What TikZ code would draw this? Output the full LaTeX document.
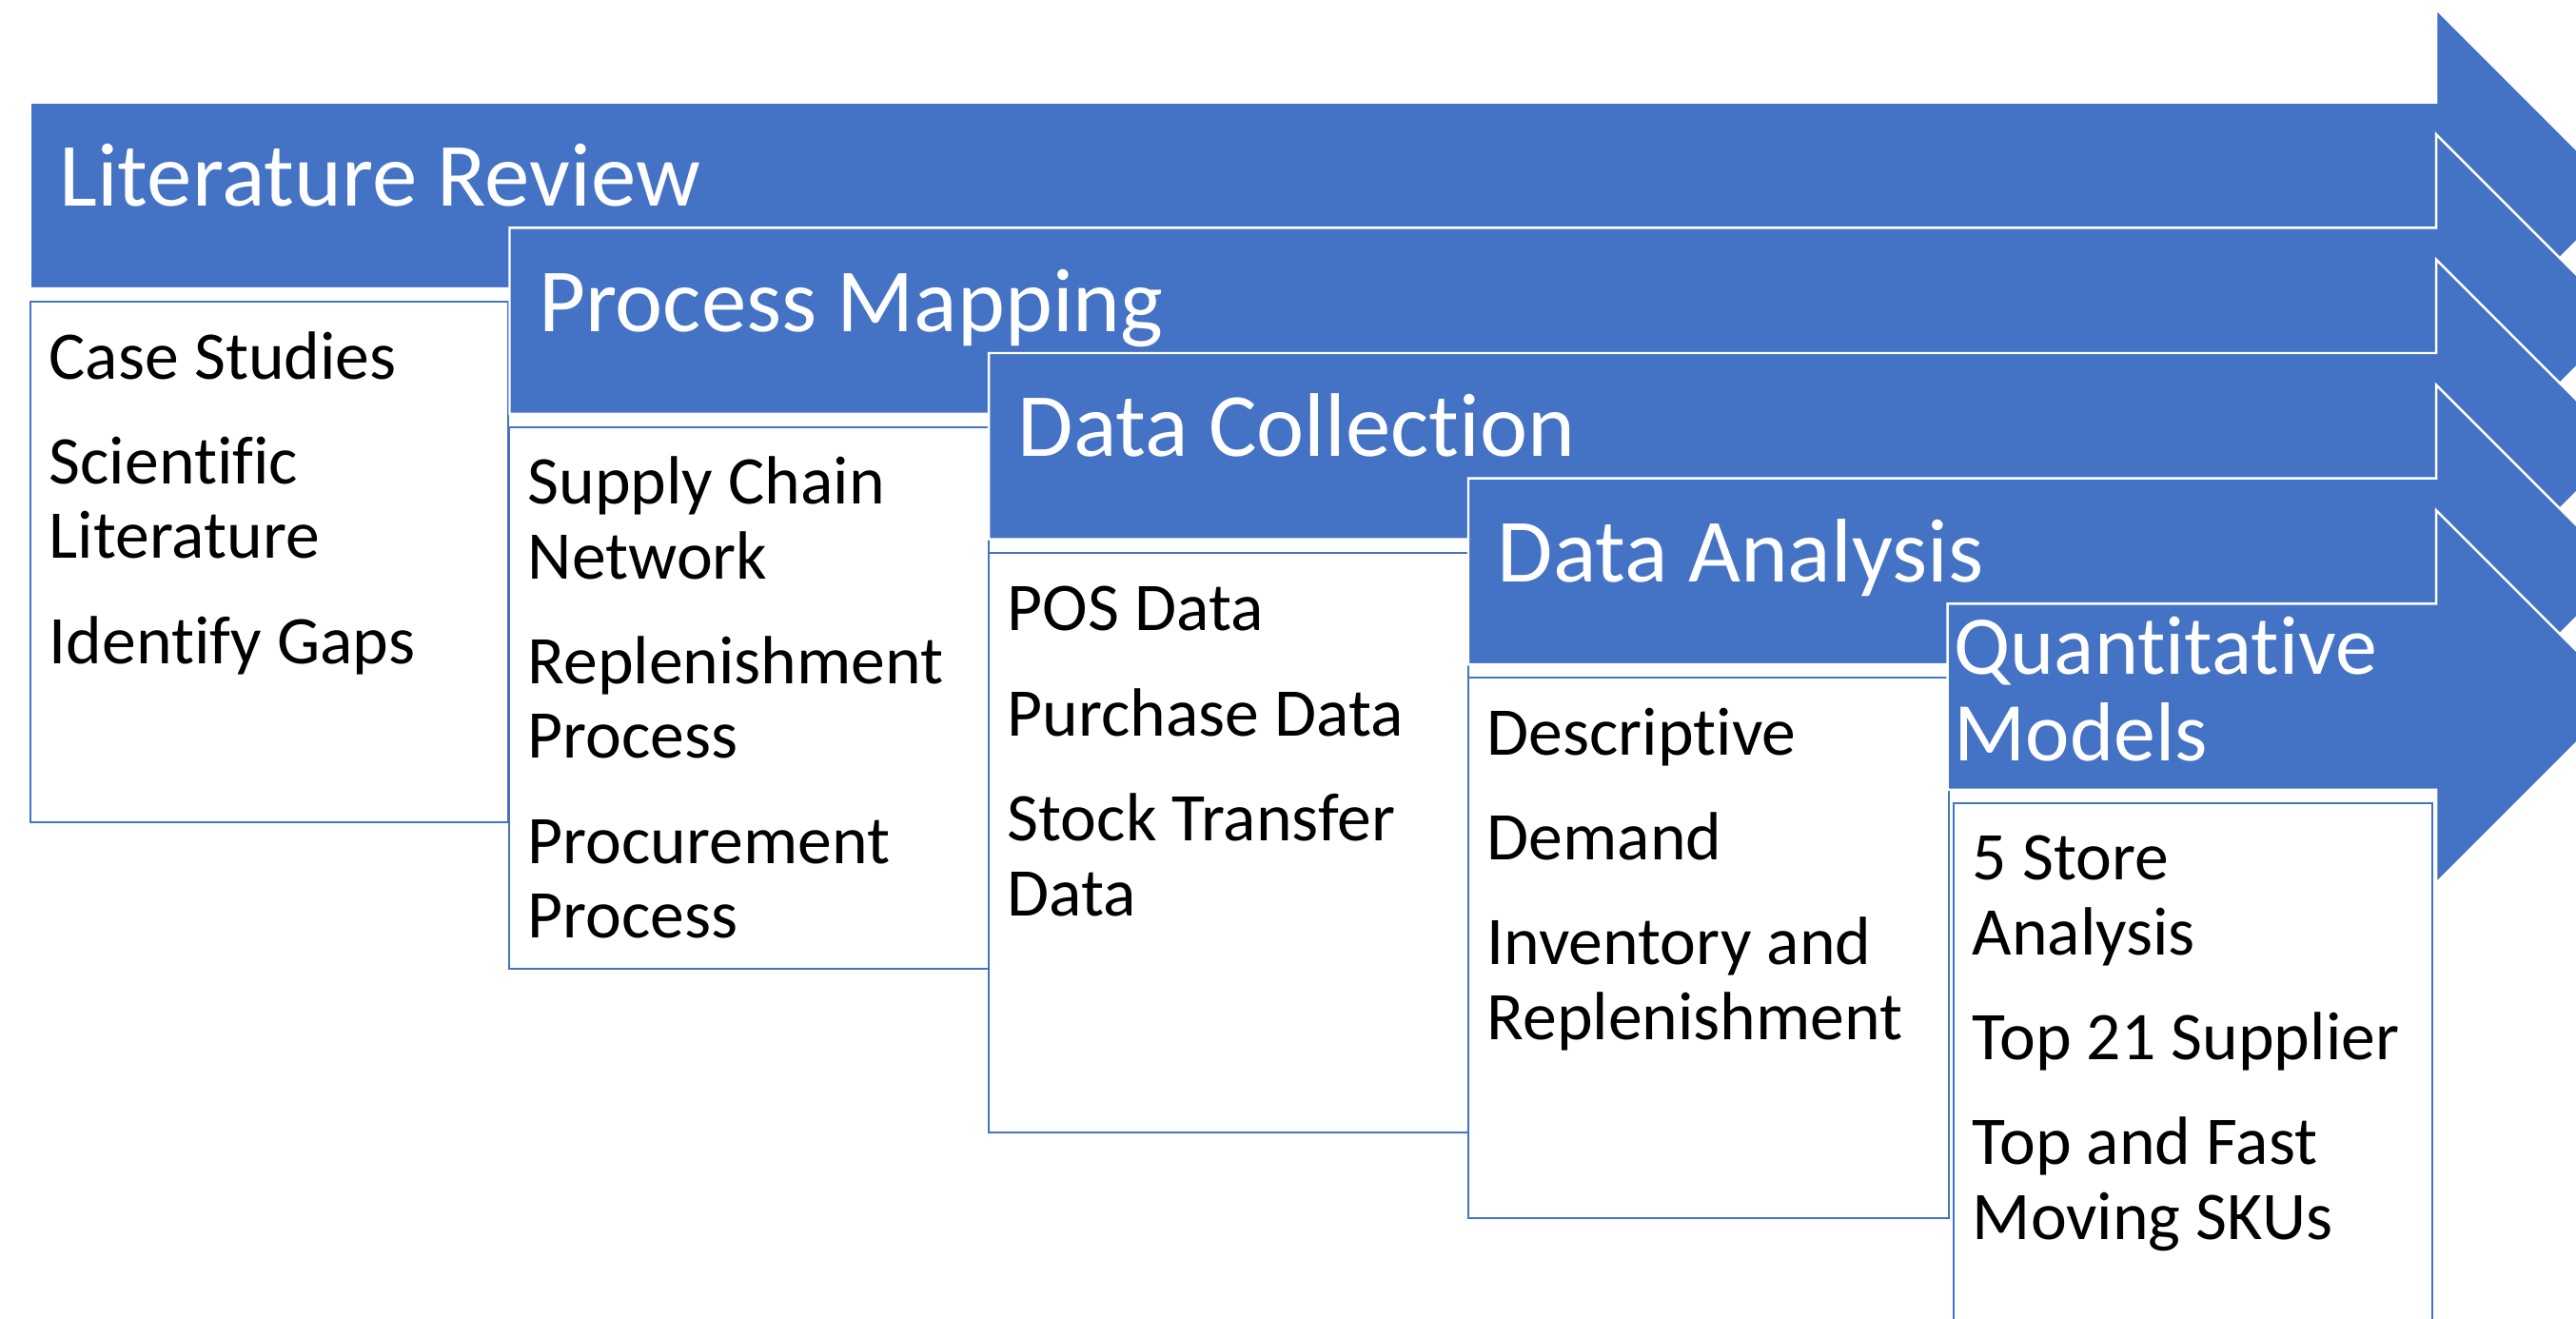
\documentclass[tikz,border=0pt]{standalone}
\usepackage{fontspec}
\setmainfont{Carlito}[Ligatures=NoCommon]
\usepackage{tikz}
\usetikzlibrary{positioning}
\definecolor{stageblue}{HTML}{4472C4}

\begin{document}
\begin{tikzpicture}
        \tikzset{
            stagearrow/.style={fill=stageblue, draw=white, line width=0.7pt, line join=miter},
            itembox/.style={draw=stageblue, fill=white, line width=0.6pt, rectangle, anchor=north west, inner sep=0pt},
            stagetitle/.style={text=white, anchor=base west, inner sep=0pt, font=\fontsize{27}{29}\selectfont},
            toplines/.style={anchor=north west, inner sep=0pt, execute at begin node={\begin{minipage}[t]{4.8cm}\raggedright\strut}, execute at end node={\end{minipage}}},
            itemlist/.style={text=black, toplines, font=\fontsize{20.4}{22.3}\selectfont}
        }
        \useasboundingbox (0,0) rectangle (27.07,-13.86);
        \clip (0,0) rectangle (27.07,-13.86);

        % Literature Review
        \draw [stagearrow] (0.317,-1.077) -- (25.60,-1.077) -- ++(0,0.9825) -- ++(1.96,-1.96) -- ++(-1.96,-1.96) -- ++(0,0.9825) -- (0.317,-3.032) -- cycle;
        \node [itembox, minimum width=5.02cm, minimum height=5.468cm] (litbox) at (0.31,-3.162) {};

        % Process Mapping
        \draw [stagearrow] (5.355,-2.394) -- (25.60,-2.394) -- ++(0,0.9825) -- ++(1.96,-1.96) -- ++(-1.96,-1.96) -- ++(0,0.9825) -- (5.355,-4.349) -- cycle;
        \node [itembox, minimum width=5.04cm, minimum height=5.69cm] (procbox) at (5.34,-4.479) {};

        % Data Collection
        \draw [stagearrow] (10.392,-3.710) -- (25.60,-3.710) -- ++(0,0.9825) -- ++(1.96,-1.96) -- ++(-1.96,-1.96) -- ++(0,0.9825) -- (10.392,-5.665) -- cycle;
        \node [itembox, minimum width=5.04cm, minimum height=6.09cm] (colbox) at (10.38,-5.80) {};

        % Data Analysis
        \draw [stagearrow] (15.430,-5.027) -- (25.60,-5.027) -- ++(0,0.9825) -- ++(1.96,-1.96) -- ++(-1.96,-1.96) -- ++(0,0.9825) -- (15.430,-6.982) -- cycle;
        \node [itembox, minimum width=5.05cm, minimum height=5.68cm] (anabox) at (15.42,-7.112) {};

        % Quantitative Models
        \draw [stagearrow] (20.467,-6.343) -- (25.60,-6.343) -- ++(0,0.9825) -- ++(1.96,-1.96) -- ++(-1.96,-1.96) -- ++(0,0.9825) -- (20.467,-8.298) -- cycle;
        \node [itembox, minimum width=5.03cm, minimum height=5.8cm] (quantbox) at (20.52,-8.428) {};

        % Stage titles
        \node [stagetitle] (litrev) at (0.617,-2.167) {Literature Review};
        \node [stagetitle] (procmap) at (5.655,-3.483) {Process Mapping};
        \node [stagetitle] (datacol) at (10.69,-4.80) {Data Collection};
        \node [stagetitle] (dataana) at (15.73,-6.117) {Data Analysis};
        \node [text=white, toplines, font=\fontsize{25}{25.9}\selectfont] (quantmod) at (20.53,-6.44) {Quantitative\\Models};

        % Stage contents
        \node [itemlist] (litlist) at (0.51,-3.426) {Case Studies\\[9.1pt]Scientific\\Literature\\[9.1pt]Identify Gaps};
        \node [itemlist] (proclist) at (5.54,-4.742) {Supply Chain\\Network\\[9.1pt]Replenishment\\Process\\[9.1pt]Procurement\\Process};
        \node [itemlist] (collist) at (10.58,-6.074) {POS Data\\[9.1pt]Purchase Data\\[9.1pt]Stock Transfer\\Data};
        \node [itemlist] (analist) at (15.62,-7.376) {Descriptive\\[9.1pt]Demand\\[9.1pt]Inventory and\\Replenishment};
        \node [itemlist] (quantlist) at (20.72,-8.692) {5 Store\\Analysis\\[9.1pt]Top 21 Supplier\\[9.1pt]Top and Fast\\Moving SKUs};

\end{tikzpicture}
\end{document}
